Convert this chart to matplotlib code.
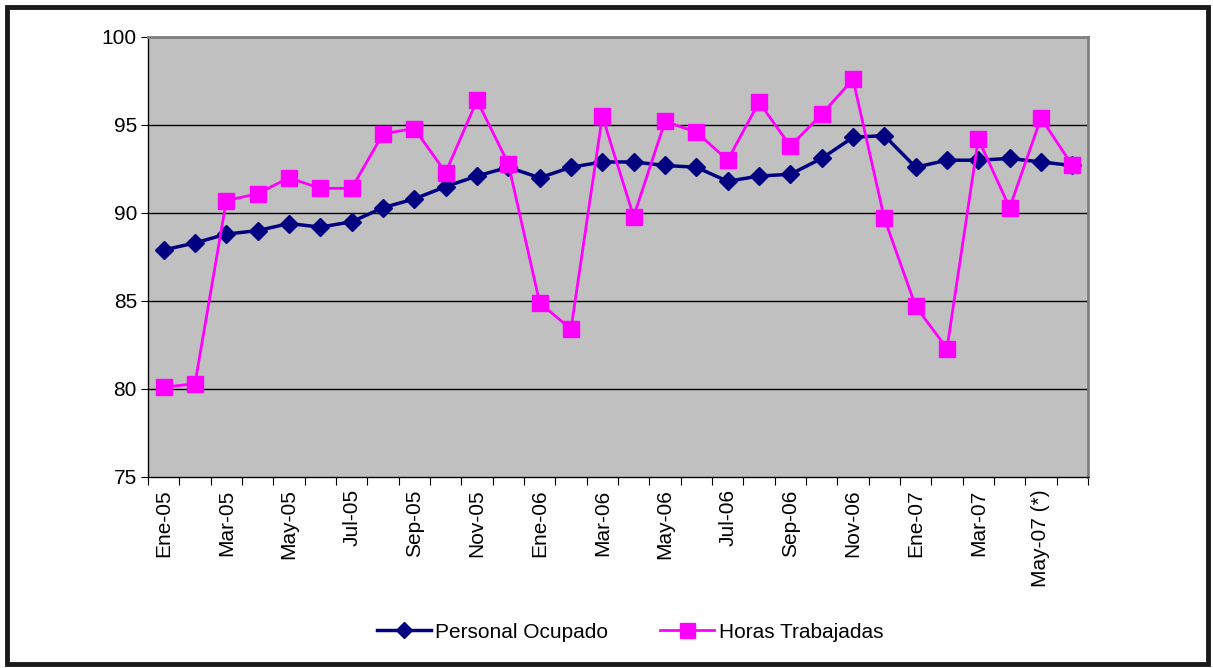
import matplotlib
matplotlib.use("Agg")
import matplotlib.pyplot as plt
from matplotlib.patches import Rectangle
import numpy as np

months = ["Ene-05", "Feb-05", "Mar-05", "Abr-05", "May-05", "Jun-05", "Jul-05", "Ago-05",
          "Sep-05", "Oct-05", "Nov-05", "Dic-05", "Ene-06", "Feb-06", "Mar-06", "Abr-06",
          "May-06", "Jun-06", "Jul-06", "Ago-06", "Sep-06", "Oct-06", "Nov-06", "Dic-06",
          "Ene-07", "Feb-07", "Mar-07", "Abr-07", "May-07 (*)", "Jun-07"]

personal = [87.9, 88.3, 88.8, 89.0, 89.4, 89.2, 89.5, 90.3, 90.8, 91.5,
            92.1, 92.6, 92.0, 92.6, 92.9, 92.9, 92.7, 92.6, 91.8, 92.1,
            92.2, 93.1, 94.3, 94.4, 92.6, 93.0, 93.0, 93.1, 92.9, 92.7]

horas = [80.1, 80.3, 90.7, 91.1, 92.0, 91.4, 91.4, 94.5, 94.8, 92.3,
         96.4, 92.8, 84.9, 83.4, 95.5, 89.8, 95.2, 94.6, 93.0, 96.3,
         93.8, 95.6, 97.6, 89.7, 84.7, 82.3, 94.2, 90.3, 95.4, 92.7]

plt.rcParams['font.family'] = ['Liberation Sans', 'DejaVu Sans']

fig = plt.figure(figsize=(12.13, 6.68), dpi=100)
ax = fig.add_axes([148 / 1213, 1 - 477 / 668, 940 / 1213, 440 / 668])
ax.set_facecolor('#C0C0C0')

x = np.arange(len(months))
ax.plot(x, personal, color='#000080', lw=2.5, marker='D', ms=9, label='Personal Ocupado', zorder=3)
ax.plot(x, horas, color='#FF00FF', lw=2, marker='s', ms=12, label='Horas Trabajadas', zorder=4)

ax.set_xlim(-0.5, len(months) - 0.5)
ax.set_ylim(75, 100)
ax.set_yticks([75, 80, 85, 90, 95, 100])
ax.tick_params(axis='y', labelsize=15, length=5, direction='out', pad=3)
for v in [80, 85, 90, 95]:
    ax.axhline(v, color='black', lw=1, zorder=1)

ax.set_xticks(np.arange(-0.5, len(months), 1), minor=False)
ax.set_xticklabels([])
ax.tick_params(axis='x', length=6, direction='out')
for i in range(0, len(months), 2):
    ax.text(i, -0.028, months[i], transform=ax.get_xaxis_transform(), rotation=90,
            ha='center', va='top', fontsize=15)

for side in ['top', 'right']:
    ax.spines[side].set_color('#808080')
    ax.spines[side].set_linewidth(2)
for side in ['left', 'bottom']:
    ax.spines[side].set_color('black')
    ax.spines[side].set_linewidth(1)

fig.legend(loc='center', bbox_to_anchor=(630 / 1213, 1 - 632 / 668), ncol=2, frameon=False,
           fontsize=15, handlelength=2.6, columnspacing=2.5, handletextpad=0.2,
           markerscale=0.9)

fig.patches.append(Rectangle((7 / 1213, 4 / 668), 1201 / 1213, 657 / 668, transform=fig.transFigure,
                             fill=False, edgecolor='#1a1a1a', lw=3.5))

fig.savefig('out.png', dpi=100)
